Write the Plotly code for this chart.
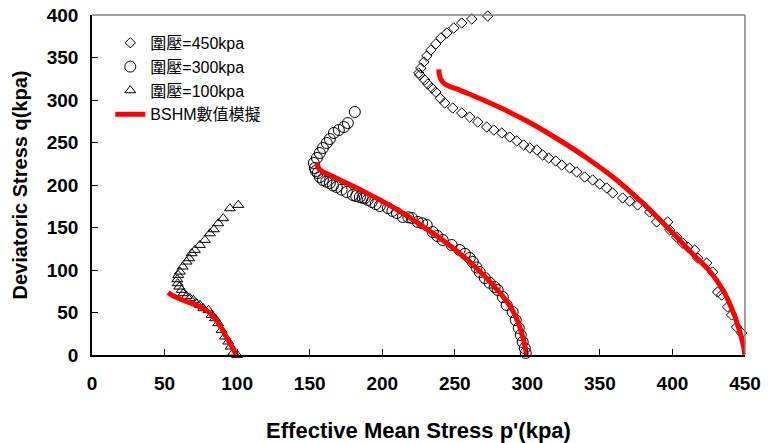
import plotly.graph_objects as go

# 圍壓 = 450 kPa (test data)
p450 = [272.7, 261.7, 254.8, 249.3, 244.5, 240.4, 236.9, 233.5, 230.7, 228.7, 226.6, 225.2,
        225.9, 229.3, 231.4, 234.2, 236.9, 240.0, 243.1, 248.6, 254.8, 260.3, 265.8, 272.0,
        276.9, 282.4, 287.9, 292.7, 297.5, 301.7, 306.5, 310.6, 314.7, 319.6, 323.7, 329.2,
        334.0, 339.5, 345.0, 349.9, 354.7, 358.8, 365.7, 370.5, 376.0, 384.3, 389.1, 396.7,
        398.1, 402.9, 407.0, 410.5, 415.3, 417.4, 423.6, 427.7, 431.1, 433.9, 438.0, 440.8,
        444.2, 447.7, 450.4]
q450 = [398.8, 395.3, 390.6, 384.7, 378.8, 372.9, 365.9, 358.8, 351.8, 344.7, 337.6, 331.8,
        329.4, 323.5, 318.8, 314.1, 309.4, 302.0, 296.5, 290.6, 284.7, 280.0, 274.1, 268.2,
        264.7, 261.2, 256.5, 251.8, 247.1, 243.5, 241.2, 235.3, 231.8, 228.2, 223.5, 220.0,
        215.3, 209.4, 205.9, 201.2, 196.5, 190.6, 184.7, 181.0, 176.5, 168.2, 156.5, 156.5,
        147.1, 138.8, 131.8, 127.1, 123.5, 114.1, 108.2, 97.6, 74.1, 70.6, 56.5, 47.1,
        32.9, 25.9, 8.2]

# 圍壓 = 300 kPa (test data)
p300 = [181.1, 176.3, 173.6, 170.1, 166.7, 163.9, 161.8, 159.1, 157.0, 155.0, 152.9,
        153.6, 154.3, 155.6, 157.0, 159.1, 161.5, 163.9, 166.0, 168.7, 172.0, 175.6, 179.8,
        182.0, 184.6, 186.5, 188.0, 190.0, 192.8, 195.5, 198.3, 203.9, 207.0, 210.1, 214.2,
        218.0, 220.4, 224.5, 227.5, 230.7, 234.8, 238.0, 241.7, 247.9, 253.4, 257.0, 260.3,
        262.4, 265.0, 267.2, 270.7, 274.0, 277.5, 279.6, 283.1, 285.8, 289.9, 292.0, 294.1,
        295.5, 296.8, 298.2, 298.9]
q300 = [285.9, 272.9, 268.2, 264.7, 261.2, 254.1, 249.4, 243.5, 237.6, 231.8, 225.9,
        220.0, 216.5, 214.1, 209.4, 205.9, 204.0, 202.4, 199.5, 197.6, 194.5, 191.8, 188.2,
        187.0, 185.9, 185.0, 184.7, 182.5, 180.0, 177.5, 175.3, 172.9, 169.5, 167.1, 162.4,
        162.0, 161.2, 156.5, 155.0, 152.9, 144.7, 140.0, 135.3, 129.4, 123.5, 119.0, 114.1,
        109.4, 103.0, 97.6, 90.6, 85.0, 80.0, 76.5, 68.2, 58.8, 50.6, 41.2, 31.8,
        23.5, 15.3, 8.2, 2.4]

# 圍壓 = 100 kPa (test data)
p100 = [100.8, 95.0, 90.4, 87.0, 84.0, 81.3, 77.8, 74.4, 70.9, 68.7, 67.0, 65.2, 62.5,
        60.6, 59.4, 58.8, 59.0, 60.1, 61.8, 62.9, 65.2, 67.5, 69.8, 72.1, 74.4, 76.7,
        80.2, 82.4, 84.7, 87.0, 89.3, 91.6, 93.9, 95.5, 97.3, 100.0]
q100 = [176.5, 172.5, 160.8, 154.9, 147.8, 143.1, 135.3, 129.4, 123.5, 119.6, 113.7, 109.8,
        103.9, 98.0, 94.1, 89.0, 84.3, 80.4, 76.5, 72.5, 69.4, 66.7, 64.7, 60.8, 58.8,
        54.9, 52.9, 47.1, 43.1, 37.3, 29.4, 21.6, 15.7, 9.8, 2.7, 0.0]

# BSHM 數值模擬 (model curves)
bp450 = [239.0, 239.3, 240.5, 243.0, 247.0, 253.0, 260.0, 280.0, 300.0, 320.0, 340.0,
         360.0, 380.0, 400.0, 415.0, 425.0, 435.0, 442.0, 446.0, 449.0, 450.0]
bq450 = [336.0, 330.0, 324.0, 319.0, 315.5, 312.0, 307.0, 292.0, 275.0, 255.0, 233.0,
         208.0, 178.0, 144.0, 117.0, 100.0, 76.0, 50.0, 30.0, 10.0, 0.0]
bp300 = [155.0, 156.0, 158.5, 165.0, 180.0, 200.0, 215.0, 230.0, 245.0, 258.0, 268.0,
         277.0, 284.0, 290.0, 294.0, 297.0, 299.0, 299.5]
bq300 = [226.0, 220.0, 216.0, 211.0, 198.5, 181.0, 166.0, 149.0, 131.0, 113.0, 97.0,
         81.0, 67.0, 52.0, 37.0, 20.0, 5.0, 0.0]
bp100 = [52.5, 55.0, 60.0, 66.0, 72.0, 78.0, 83.0, 88.0, 92.0, 96.0, 99.5]
bq100 = [73.5, 70.5, 66.5, 62.5, 58.5, 53.5, 46.5, 35.0, 23.0, 11.0, 0.0]

x_ticks = [0, 50, 100, 150, 200, 250, 300, 350, 400, 450]
y_ticks = [0, 50, 100, 150, 200, 250, 300, 350, 400]

FONT = "Liberation Sans, Arial, Noto Sans CJK TC, sans-serif"
BOLD = "Liberation Sans, Arial, sans-serif"

fig = go.Figure()

def markers(x, y, name, symbol, size, rank):
    fig.add_trace(go.Scatter(
        x=x, y=y, mode="markers", name=name, legendrank=rank,
        marker=dict(symbol=symbol, size=size, color="black",
                    line=dict(color="black", width=1)),
        cliponaxis=False))

markers(p450, q450, "圍壓=450kpa", "diamond-open", 8, 1)
markers(p300, q300, "圍壓=300kpa", "circle-open", 11, 2)
markers(p100, q100, "圍壓=100kpa", "triangle-up-open", 9.5, 3)

for i, (bx, by) in enumerate([(bp450, bq450), (bp300, bq300), (bp100, bq100)]):
    fig.add_trace(go.Scatter(
        x=bx, y=by, mode="lines", name="BSHM數值模擬",
        line=dict(color="#ff0000", width=5, shape="spline", smoothing=0.8),
        legendgroup="bshm", showlegend=(i == 0), legendrank=4))

fig.update_layout(
    width=773, height=443,
    margin=dict(l=92, r=28, t=15, b=88, autoexpand=False),
    paper_bgcolor="white", plot_bgcolor="white",
    font=dict(family=FONT, size=16, color="black"),
    legend=dict(x=0.028, y=0.968, xanchor="left", yanchor="top",
                bgcolor="rgba(0,0,0,0)", borderwidth=0,
                font=dict(size=16, family=FONT), tracegroupgap=0),
    shapes=[
        dict(type="line", xref="paper", yref="paper", x0=0, x1=1, y0=1, y1=1,
             line=dict(color="#808080", width=1.5)),
        dict(type="line", xref="paper", yref="paper", x0=1, x1=1, y0=0, y1=1,
             line=dict(color="#808080", width=1.5)),
    ],
)

fig.update_xaxes(
    range=[0, 450], tickvals=x_ticks, ticktext=[str(v) for v in x_ticks],
    automargin=False, ticklabeloverflow="allow",
    showgrid=False, zeroline=False, showline=True, linecolor="black", linewidth=1.5,
    ticks="inside", ticklen=6, tickcolor="black", ticklabelstandoff=10,
    tickfont=dict(family=BOLD, size=19, weight="bold"),
    title=dict(text="Effective Mean Stress p'(kpa)", standoff=31,
               font=dict(family=BOLD, size=22, weight="bold")))

fig.update_yaxes(
    range=[0, 400], tickvals=y_ticks, ticktext=[str(v) for v in y_ticks],
    automargin=False, ticklabeloverflow="allow",
    showgrid=False, zeroline=False, showline=True, linecolor="black", linewidth=1.5,
    ticks="inside", ticklen=6, tickcolor="black", ticklabelstandoff=8,
    tickfont=dict(family=BOLD, size=19, weight="bold"),
    title=dict(text="Deviatoric Stress q(kpa)", standoff=14,
               font=dict(family=BOLD, size=20, weight="bold")))

fig.write_html("out.html",
               config={"displayModeBar": False},
               post_script="document.body.style.margin='0';"
                           "document.body.style.overflow='hidden';")
